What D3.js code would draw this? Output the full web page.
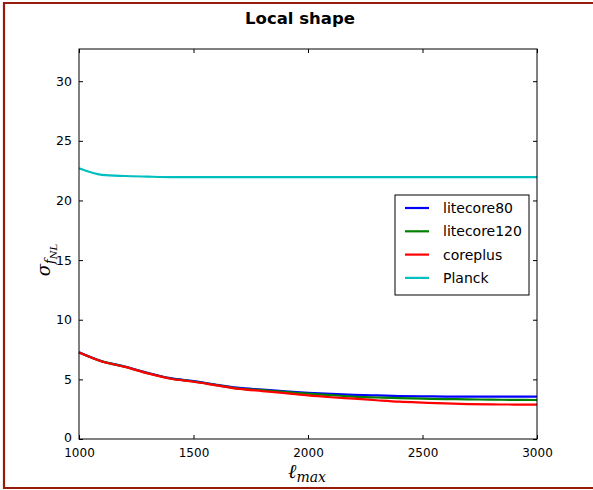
<!DOCTYPE html>
<html>
<head>
<meta charset="utf-8">
<script src="https://cdn.jsdelivr.net/npm/d3@7"></script>
<style>
  body { margin: 0; background: #fff; }
  svg { display: block; }
  text { font-family: 'DejaVu Sans', sans-serif; }
</style>
</head>
<body>
<script>
const ell = [1000, 1100, 1200, 1300, 1400, 1500, 1600, 1700, 1800, 1900, 2000,
  2100, 2200, 2300, 2400, 2500, 2600, 2700, 2800, 2900, 3000];

const litecore80 = [7.27, 6.52, 6.08, 5.55, 5.1, 4.85, 4.55, 4.28, 4.15, 4.0, 3.88,
  3.78, 3.7, 3.65, 3.6, 3.58, 3.56, 3.55, 3.55, 3.55, 3.55];
const litecore120 = [7.26, 6.51, 6.06, 5.52, 5.07, 4.82, 4.52, 4.22, 4.1, 3.95, 3.8,
  3.68, 3.55, 3.48, 3.42, 3.38, 3.35, 3.32, 3.3, 3.28, 3.27];
const coreplus = [7.25, 6.5, 6.05, 5.5, 5.05, 4.8, 4.5, 4.2, 4.02, 3.85, 3.65,
  3.5, 3.38, 3.25, 3.13, 3.05, 2.98, 2.93, 2.9, 2.89, 2.88];
const planck = [22.7, 22.15, 22.05, 22.0, 21.96, 21.95, 21.95, 21.95, 21.95, 21.95, 21.95,
  21.95, 21.95, 21.95, 21.95, 21.95, 21.95, 21.95, 21.95, 21.95, 21.95];

const seriesNames = ['litecore80', 'litecore120', 'coreplus', 'Planck'];
const seriesColors = ['#0000ff', '#008000', '#ff0000', '#00bfbf'];
const xTicks = [1000, 1500, 2000, 2500, 3000];
const yTicks = [0, 5, 10, 15, 20, 25, 30];

const width = 593;
const height = 490;
const margin = { left: 79, right: 56, top: 49, bottom: 51 };

const svg = d3.select('body')
  .append('svg')
  .attr('width', width)
  .attr('height', height);

// outer frame (open on the right)
svg.append('path')
  .attr('d', `M${ width + 5 },3 H4 V488 H${ width + 5 }`)
  .attr('fill', 'none')
  .attr('stroke', '#971b0d')
  .attr('stroke-width', 2.2);

const x = d3.scaleLinear()
  .domain([1000, 3000])
  .range([margin.left, width - margin.right]);

const y = d3.scaleLinear()
  .domain([0, 32.7])
  .range([height - margin.bottom, margin.top]);

const tickLen = 4;

// axes with ticks pointing inward
svg.append('g')
  .attr('transform', `translate(0,${ y(0) })`)
  .call(d3.axisBottom(x).tickValues(xTicks).tickFormat(d3.format('d'))
    .tickSizeInner(-tickLen).tickSizeOuter(0).tickPadding(9))
  .call(g => g.select('.domain').remove())
  .call(g => g.selectAll('text').attr('font-size', 12).attr('fill', '#000'));

svg.append('g')
  .attr('transform', `translate(0,${ y(32.7) })`)
  .call(d3.axisTop(x).tickValues(xTicks).tickSizeInner(-tickLen).tickSizeOuter(0).tickFormat(''))
  .call(g => g.select('.domain').remove());

svg.append('g')
  .attr('transform', `translate(${ x(1000) },0)`)
  .call(d3.axisLeft(y).tickValues(yTicks).tickSizeInner(-tickLen).tickSizeOuter(0).tickPadding(7))
  .call(g => g.select('.domain').remove())
  .call(g => g.selectAll('text').attr('font-size', 12.5).attr('fill', '#000'))
  .call(g => g.selectAll('text').filter(d => d === 0).attr('dy', '0.2em'));

svg.append('g')
  .attr('transform', `translate(${ x(3000) },0)`)
  .call(d3.axisRight(y).tickValues(yTicks).tickSizeInner(-tickLen).tickSizeOuter(0).tickFormat(''))
  .call(g => g.select('.domain').remove());

const data = [litecore80, litecore120, coreplus, planck];

const line = d3.line()
  .x((d, i) => x(ell[i]))
  .y(d => y(d))
  .curve(d3.curveMonotoneX);

svg.append('g')
  .selectAll('path')
  .data(data)
  .enter()
  .append('path')
  .attr('d', d => line(d))
  .attr('fill', 'none')
  .attr('stroke', (d, i) => seriesColors[i])
  .attr('stroke-width', 2.2);

// plot frame
svg.append('rect')
  .attr('x', x(1000))
  .attr('y', y(32.7))
  .attr('width', x(3000) - x(1000))
  .attr('height', y(0) - y(32.7))
  .attr('fill', 'none')
  .attr('stroke', '#000')
  .attr('stroke-width', 1);

// title
svg.append('text')
  .attr('x', 300)
  .attr('y', 24)
  .attr('text-anchor', 'middle')
  .attr('font-size', 16.5)
  .attr('font-weight', 'bold')
  .text('Local shape');

// axis labels
const xl = svg.append('text')
  .attr('x', 307)
  .attr('y', 478)
  .attr('text-anchor', 'middle')
  .style('font-family', "'DejaVu Serif', serif")
  .style('font-style', 'italic');
xl.append('tspan').attr('font-size', 20).text('ℓ');
xl.append('tspan').attr('font-size', 14).attr('dy', 4).text('max');

const yl = svg.append('text')
  .attr('transform', 'translate(50,260) rotate(-90)')
  .attr('text-anchor', 'middle')
  .style('font-family', "'DejaVu Serif', serif")
  .style('font-style', 'italic');
yl.append('tspan').attr('font-size', 18).text('σ');
yl.append('tspan').attr('font-size', 13).attr('dy', 4).text('f');
yl.append('tspan').attr('font-size', 10).attr('dy', 3).text('NL');

// legend
const legend = svg.append('g').attr('transform', 'translate(395,195)');
legend.append('rect')
  .attr('width', 134)
  .attr('height', 100)
  .attr('fill', '#fff')
  .attr('stroke', '#000')
  .attr('stroke-width', 1);

const items = legend.selectAll('.item')
  .data(seriesNames)
  .enter()
  .append('g')
  .attr('class', 'item')
  .attr('transform', (d, i) => `translate(0,${ 13 + i * 23.3 })`);

items.append('line')
  .attr('x1', 10)
  .attr('x2', 34)
  .attr('stroke', (d, i) => seriesColors[i])
  .attr('stroke-width', 2.2);

items.append('text')
  .attr('x', 48)
  .attr('dy', '0.35em')
  .attr('font-size', 14)
  .text(d => d);
</script>
</body>
</html>
